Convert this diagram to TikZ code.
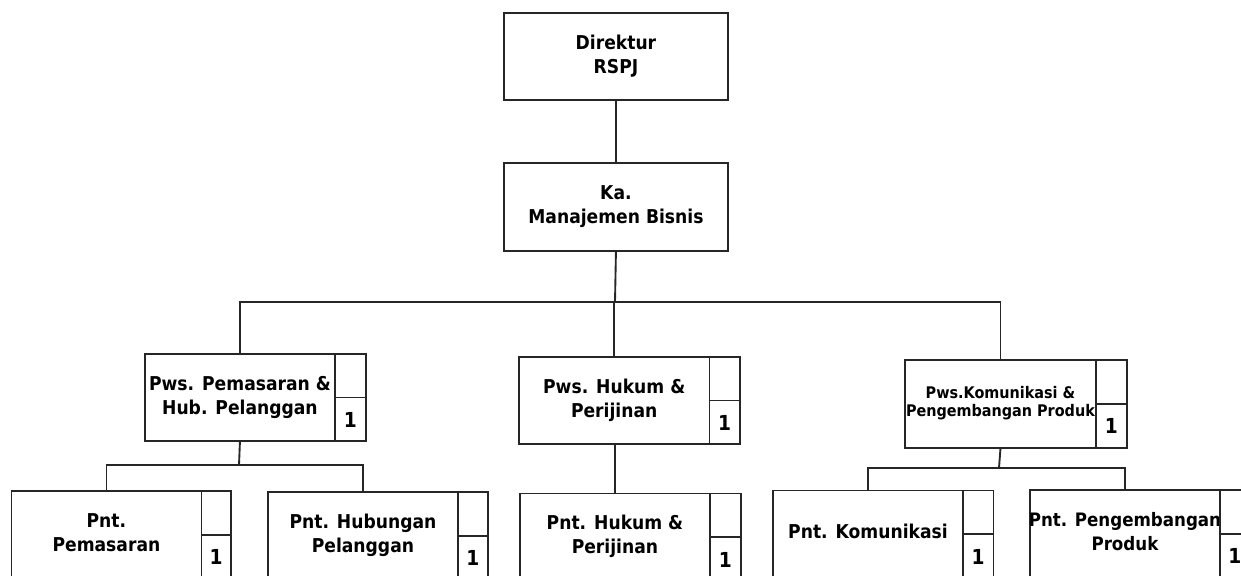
\documentclass[tikz,border=0pt]{standalone}
\usepackage{fontspec}
\usetikzlibrary{calc}
\setmainfont{DejaVu Sans Condensed}
\begin{document}
\begin{tikzpicture}[x=0.75pt,y=-0.75pt,
  every node/.style={inner sep=0pt},
  frame/.style={draw=black!85, line width=1.4pt},
  mainbox/.style={frame, align=center,
    font=\fontsize{14.3}{18}\selectfont\bfseries},
  smallbox/.style={mainbox, font=\fontsize{12}{13.7}\selectfont\bfseries},
  tightbox/.style={mainbox, font=\fontsize{13.9}{18}\selectfont\bfseries},
  countlabel/.style={font=\fontsize{15.5}{18}\selectfont\bfseries},
  link/.style={draw=black!85, line width=1.4pt}]
\useasboundingbox (0,0) rectangle (1241,575);
\clip (0,0) rectangle (1241,575);

% a unit box with a narrow two-cell column on its right;
% the label is set in a zero-width box so that it never widens the frame
% #1 name, #2 left, #3 top, #4 divider, #5 right, #6 bottom, #7 style, #8 text
\newcommand\orgunit[8]{%
  \pgfmathsetmacro\ulw{(#4-#2)*0.75}%
  \pgfmathsetmacro\usw{(#5-#4)*0.75}%
  \pgfmathsetmacro\uh{(#6-#3)*0.75}%
  \node[#7, minimum width=\ulw pt, minimum height=\uh pt, anchor=north west] (#1) at (#2,#3)
    {\makebox[0pt]{\begin{tabular}{@{}c@{}}#8\end{tabular}}};
  \node[frame, minimum width=\usw pt, minimum height=\uh pt, anchor=north west] (#1-side) at (#4,#3) {};
  \draw[frame] (#1-side.west) -- (#1-side.east);
  \node[countlabel] (#1-num) at ($(#1-side.center)!0.5!(#1-side.south)$) {1};
}

% top of the chart
\node[mainbox, minimum width=168pt, minimum height=65.25pt, anchor=north west] (dir) at (503,12) {Direktur\\RSPJ};
\node[mainbox, minimum width=168pt, minimum height=66pt, anchor=north west] (ka) at (503,162) {Ka.\\Manajemen Bisnis};

% supervisors
\orgunit{pwsA}{144}{353}{334}{365}{440}{mainbox}{Pws. Pemasaran \&\\Hub. Pelanggan}
\orgunit{pwsB}{518}{356}{708.5}{739}{443}{mainbox}{Pws. Hukum \&\\Perijinan}
\orgunit{pwsC}{904}{359}{1095}{1126}{447}{smallbox}{Pws.Komunikasi \&\\Pengembangan Produk}

% staff
\orgunit{pntA}{10.5}{490}{200.5}{230}{578}{mainbox}{Pnt.\\Pemasaran}
\orgunit{pntB}{267}{491}{457}{487}{579}{mainbox}{Pnt. Hubungan\\Pelanggan}
\orgunit{pntC}{519}{492.5}{709}{740}{580}{mainbox}{Pnt. Hukum \&\\Perijinan}
\orgunit{pntD}{772}{489.5}{962}{992.5}{577}{mainbox}{Pnt. Komunikasi}
\orgunit{pntE}{1029}{489}{1219}{1249}{577}{tightbox}{Pnt. Pengembangan\\Produk}

% connectors
\draw[link] (dir.south) -- (ka.north);
\coordinate (hubTop) at (615,302);
\coordinate (hubA) at (239,465);
\coordinate (hubC) at (999,468);
\draw[link] (ka.south) -- (hubTop);
\draw[link] (pwsA.north) |- (hubTop) -| (pwsC.north);
\draw[link] (hubTop) -| (pwsB.north);
\draw[link] (pwsA.south) -- (hubA);
\draw[link] (pntA.north) |- (hubA) -| (pntB.north);
\draw[link] (pntC.north) -- (pntC.north |- pwsB.south);
\draw[link] (pwsC.south) -- (hubC);
\draw[link] (pntD.north) |- (hubC) -| (pntE.north);
\end{tikzpicture}
\end{document}
